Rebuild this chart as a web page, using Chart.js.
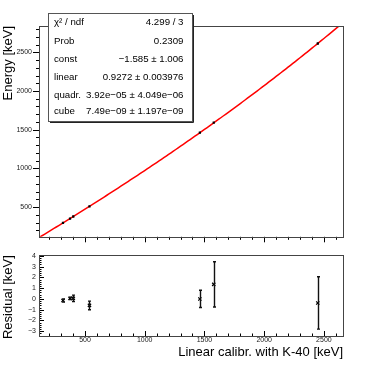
<!DOCTYPE html>
<html>
<head>
<meta charset="utf-8">
<script src="https://cdn.jsdelivr.net/npm/chart.js@4.4.0/dist/chart.umd.min.js"></script>
<style>
  html, body { margin: 0; padding: 0; background: #fff; }
  #wrap { position: relative; width: 382px; height: 367px; overflow: hidden; }
  canvas { position: absolute; left: 0; }
</style>
</head>
<body>
<div id="wrap">
  <canvas id="fit" width="382" height="248" style="top:0px"></canvas>
  <canvas id="resid" width="382" height="119" style="top:248px"></canvas>
</div>
<script>
// calibration points: channel energy from K-40 linear calibration vs. true energy
var calib = [315.8, 374.8, 402.0, 537.5, 1461.8, 1578.0, 2449.0];
var energy = [295.2, 351.9, 378.0, 508.7, 1460.8, 1589.9, 2613.9];
var resid = [-0.15, 0.05, 0.05, -0.6, 0.0, 1.35, -0.37];
var residErr = [0.15, 0.1, 0.3, 0.4, 0.8, 2.1, 2.43];

// pol3 fit parameters (const, linear, quadr., cube)
var fitPar = [-1.585, 0.9272, 3.92e-05, 7.49e-09];

// tick labels
var xTicks = [500, 1000, 1500, 2000, 2500];
var energyTicks = [500, 1000, 1500, 2000, 2500];
var residTicks = [-3, -2, -1, 0, 1, 2, 3, 4];

var statNames = ["\u03C7\u00B2 / ndf", "Prob", "const", "linear", "quadr.", "cube"];
var statValues = ["4.299 / 3", "0.2309", "\u22121.585 \u00B1 1.006", "0.9272 \u00B1 0.003976",
  "3.92e\u221205 \u00B1 4.049e\u221206", "7.49e\u221209 \u00B1 1.197e\u221209"];

Chart.defaults.font.family = "'Liberation Sans', Arial, sans-serif";
Chart.defaults.color = '#000';

function fmt(v) { return String(v).replace('-', '\u2212'); }
function setTicks(list) {
  return function (s) { s.ticks = list.map(function (v) { return { value: v }; }); };
}

function fitCurve() {
  var pts = [];
  for (var x = 100; x <= 2700; x += 20) {
    var y = fitPar[0] + fitPar[1] * x + fitPar[2] * x * x + fitPar[3] * x * x * x;
    pts.push({ x: x, y: y });
  }
  return pts;
}

// draws ROOT-like major/minor tick marks
function drawAxisTicks(ctx, scale, area, step, majorStep, majLen, minLen, dir) {
  var start = Math.ceil(scale.min / step) * step;
  ctx.beginPath();
  for (var v = start; v <= scale.max + 1e-9; v += step) {
    var vv = Math.round(v / step) * step;
    var r = vv / majorStep;
    var major = Math.abs(r - Math.round(r)) < 1e-6;
    var len = major ? majLen : minLen;
    var p = Math.round(scale.getPixelForValue(vv)) + 0.5;
    if (scale.isHorizontal()) {
      ctx.moveTo(p, area.bottom);
      ctx.lineTo(p, area.bottom + dir * len);
    } else {
      ctx.moveTo(area.left, p);
      ctx.lineTo(area.left + dir * len, p);
    }
  }
  ctx.stroke();
}

function framePlugin(tk) {
  return {
    id: 'rootFrame',
    afterDraw: function (chart) {
      var ctx = chart.ctx, a = chart.chartArea;
      ctx.save();
      ctx.strokeStyle = '#000';
      ctx.lineWidth = 1;
      drawAxisTicks(ctx, chart.scales.x, a, tk.xStep, tk.xMajor, tk.xLen[0], tk.xLen[1], tk.xDir);
      drawAxisTicks(ctx, chart.scales.y, a, tk.yStep, tk.yMajor, tk.yLen[0], tk.yLen[1], tk.yDir);
      ctx.strokeStyle = '#444';
      ctx.strokeRect(Math.round(a.left) + 0.5, Math.round(a.top) + 0.5,
        Math.round(a.right - a.left), Math.round(a.bottom - a.top));
      ctx.restore();
    }
  };
}

var statsPlugin = {
  id: 'statsBox',
  afterDraw: function (chart) {
    var ctx = chart.ctx;
    var L = 48, T = 13, R = 192, B = 121;
    ctx.save();
    ctx.fillStyle = '#fff';
    ctx.fillRect(L, T, R - L, B - T);
    ctx.strokeStyle = '#555';
    ctx.lineWidth = 1;
    ctx.strokeRect(L + 0.5, T + 0.5, R - L, B - T);
    ctx.strokeStyle = '#222';
    ctx.beginPath();
    ctx.moveTo(L + 2, B + 1.5); ctx.lineTo(R + 1.5, B + 1.5); ctx.lineTo(R + 1.5, T + 2);
    ctx.stroke();
    ctx.fillStyle = '#000';
    ctx.font = "9.7px 'Liberation Sans', Arial, sans-serif";
    ctx.textBaseline = 'middle';
    var rows = [22.5, 41, 59, 77, 95, 111.5];
    for (var i = 0; i < statNames.length; i++) {
      ctx.textAlign = 'left';
      ctx.fillText(statNames[i], 54, rows[i]);
      ctx.textAlign = 'right';
      ctx.fillText(statValues[i], 183.5, rows[i]);
    }
    ctx.restore();
  }
};

var errorBarPlugin = {
  id: 'errBars',
  afterDatasetsDraw: function (chart) {
    var ctx = chart.ctx, xs = chart.scales.x, ys = chart.scales.y;
    ctx.save();
    ctx.strokeStyle = '#111';
    ctx.lineWidth = 1.4;
    ctx.beginPath();
    for (var i = 0; i < calib.length; i++) {
      var px = Math.round(xs.getPixelForValue(calib[i])) + 0.5;
      var y1 = ys.getPixelForValue(resid[i] + residErr[i]);
      var y2 = ys.getPixelForValue(resid[i] - residErr[i]);
      ctx.moveTo(px, y1); ctx.lineTo(px, y2);
      ctx.moveTo(px - 1.5, y1); ctx.lineTo(px + 1.5, y1);
      ctx.moveTo(px - 1.5, y2); ctx.lineTo(px + 1.5, y2);
    }
    ctx.stroke();
    ctx.restore();
  }
};

var ctx = document.getElementById("fit");
var fitChart = new Chart(ctx, {
  type: 'scatter',
  data: {
    datasets: [{
      label: 'points',
      data: calib.map(function (x, i) { return { x: x, y: energy[i] }; }),
      pointStyle: 'rect',
      pointRadius: 1.6,
      backgroundColor: '#000',
      borderColor: '#000',
      borderWidth: 0
    }, {
      label: 'pol3',
      data: fitCurve(),
      showLine: true,
      pointRadius: 0,
      borderColor: '#ff0000',
      borderWidth: 1.5
    }]
  },
  options: {
    responsive: false,
    animation: false,
    devicePixelRatio: 1,
    layout: { padding: { top: 26, right: 39, left: 0, bottom: 0 } },
    plugins: { legend: { display: false }, tooltip: { enabled: false } },
    scales: {
      x: {
        type: 'linear', min: 115, max: 2660,
        afterFit: function (s) { s.height = 10; },
        ticks: { display: false },
        grid: { display: false, drawTicks: false },
        border: { display: false }
      },
      y: {
        type: 'linear', min: 115.6, max: 2840,
        afterBuildTicks: setTicks(energyTicks),
        afterFit: function (s) { s.width = 39; },
        ticks: { padding: 7, autoSkip: false,
          font: { size: 7 }, color: '#222', callback: function (v) { return String(v); } },
        grid: { display: false, drawTicks: false },
        border: { display: false },
        title: { display: true, text: 'Energy [keV]', align: 'end', font: { size: 13 },
          color: '#000', padding: { top: 1, bottom: 0 } }
      }
    }
  },
  plugins: [framePlugin({ xStep: 100, xMajor: 500, xLen: [5.5, 3], xDir: 1,
    yStep: 100, yMajor: 500, yLen: [6, 3], yDir: -1 }), statsPlugin]
});

var ctx2 = document.getElementById("resid");
var residChart = new Chart(ctx2, {
  type: 'scatter',
  data: {
    datasets: [{
      label: 'residual',
      data: calib.map(function (x, i) { return { x: x, y: resid[i] }; }),
      pointStyle: 'crossRot',
      pointRadius: 2.3,
      borderColor: '#000',
      borderWidth: 1.2
    }]
  },
  options: {
    responsive: false,
    animation: false,
    devicePixelRatio: 1,
    layout: { padding: { top: 7, right: 39, left: 0, bottom: 0 } },
    plugins: { legend: { display: false }, tooltip: { enabled: false } },
    scales: {
      x: {
        type: 'linear', min: 115, max: 2660,
        afterBuildTicks: setTicks(xTicks),
        afterFit: function (s) { s.height = 31; },
        ticks: { padding: 0, autoSkip: false, maxRotation: 0,
          font: { size: 7 }, color: '#222', callback: function (v) { return String(v); } },
        grid: { display: false, drawTicks: false },
        border: { display: false },
        title: { display: true, text: 'Linear calibr. with K-40 [keV]', align: 'end',
          font: { size: 13 }, color: '#000', padding: { top: 0, bottom: 7 } }
      },
      y: {
        type: 'linear', min: -3.44, max: 4.06,
        afterBuildTicks: setTicks(residTicks),
        afterFit: function (s) { s.width = 39; },
        ticks: { padding: 3, autoSkip: false,
          font: { size: 7 }, color: '#222', callback: function (v) { return fmt(v); } },
        grid: { display: false, drawTicks: false },
        border: { display: false },
        title: { display: true, text: 'Residual [keV]', align: 'end', font: { size: 13 },
          color: '#000', padding: { top: 1, bottom: 0 } }
      }
    }
  },
  plugins: [errorBarPlugin, framePlugin({ xStep: 100, xMajor: 500, xLen: [5, 2.5], xDir: -1,
    yStep: 0.2, yMajor: 1, yLen: [5, 2.5], yDir: 1 })]
});
</script>
</body>
</html>
